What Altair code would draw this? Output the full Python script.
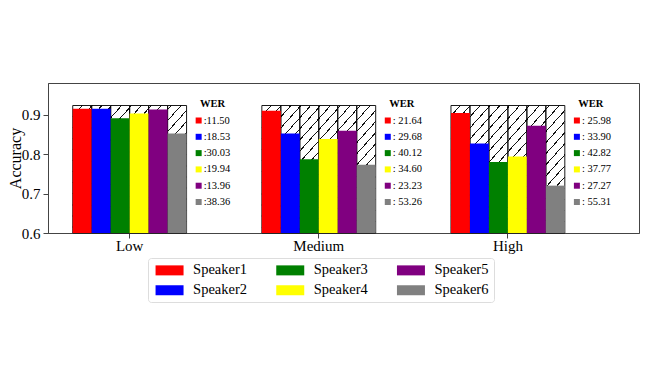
import altair as alt
import pandas as pd

groups = ["Low", "Medium", "High"]
speakers = ["Speaker1", "Speaker2", "Speaker3", "Speaker4", "Speaker5", "Speaker6"]
colors = ["#ff0000", "#0000ff", "#008000", "#ffff00", "#800080", "#808080"]

acc_low = [0.915, 0.915, 0.891, 0.903, 0.913, 0.852]
acc_medium = [0.910, 0.852, 0.787, 0.838, 0.859, 0.773]
acc_high = [0.904, 0.827, 0.780, 0.794, 0.872, 0.720]

wer_low = [":11.50", ":18.53", ":30.03", ":19.94", ":13.96", ":38.36"]
wer_medium = [": 21.64", ": 29.68", ": 40.12", ": 34.60", ": 23.23", ": 53.26"]
wer_high = [": 25.98", ": 33.90", ": 42.82", ": 37.77", ": 27.27", ": 55.31"]

y_base = 0.6
hatch_top = 0.923
y_ticks = [0.6, 0.7, 0.8, 0.9]

FONT = "Liberation Serif"

acc_all = [acc_low, acc_medium, acc_high]
wer_all = [wer_low, wer_medium, wer_high]

rows = []
wrows = []
for g, accs, wers in zip(groups, acc_all, wer_all):
    for i, (s, a, w) in enumerate(zip(speakers, accs, wers)):
        rows.append({"group": g, "speaker": s, "acc": a, "base": y_base, "top": hatch_top})
        wrows.append({"group": g, "speaker": s, "row": i + 1, "label": w})
bars_df = pd.DataFrame(rows)
wer_df = pd.DataFrame(wrows)
hatch_df = pd.DataFrame({"group": groups, "base": [y_base] * 3, "top": [hatch_top] * 3})
title_df = pd.DataFrame({"group": groups, "row": [0] * 3, "text": ["WER"] * 3})

x_scale = alt.Scale(domain=groups, paddingInner=0.398, paddingOuter=0.2615, align=0.25)
y_scale = alt.Scale(domain=[0.6, 0.98], zero=False, nice=False)
color_scale = alt.Scale(domain=speakers, range=colors)
xoff_scale = alt.Scale(domain=speakers, paddingInner=0, paddingOuter=0)

# hatch gradient (stripes)
N = 23
frac = 0.12
stops = []
for k in range(N):
    a = k / N
    b = (k + 1 - frac) / N
    c = (k + 1) / N
    stops += [
        alt.GradientStop(color="white", offset=a),
        alt.GradientStop(color="white", offset=b),
        alt.GradientStop(color="#111111", offset=b),
        alt.GradientStop(color="#111111", offset=c),
    ]
hatch_fill = alt.LinearGradient(gradient="linear", stops=stops, x1=0, y1=0, x2=1, y2=1)

x_enc = alt.X("group:N", scale=x_scale, sort=groups,
              axis=alt.Axis(title=None, labelAngle=0, labelFontSize=15, labelFont=FONT,
                            labelColor="black", tickSize=5, labelPadding=0,
                            domainColor="#444", tickColor="#444"))
y_enc = alt.Y("top:Q", scale=y_scale,
              axis=alt.Axis(title="Accuracy", values=y_ticks, format=".1f", grid=False,
                            labelFontSize=15, labelFont=FONT, labelColor="black",
                            titleFontSize=16, titleFont=FONT, titleFontWeight="normal",
                            titleColor="black", tickSize=5, labelPadding=3, titlePadding=-2,
                            domainColor="#444", tickColor="#444"))

hatch = alt.Chart(hatch_df).mark_bar(fill=hatch_fill, strokeWidth=0).encode(
    x=x_enc, y=y_enc, y2="base:Q")

outlines = alt.Chart(bars_df).mark_bar(fillOpacity=0, stroke="black", strokeWidth=0.9).encode(
    x=alt.X("group:N", scale=x_scale, sort=groups),
    xOffset=alt.XOffset("speaker:N", scale=xoff_scale),
    y=alt.Y("top:Q", scale=y_scale), y2="base:Q")

bars = alt.Chart(bars_df).mark_bar().encode(
    x=alt.X("group:N", scale=x_scale, sort=groups),
    xOffset=alt.XOffset("speaker:N", scale=xoff_scale),
    y=alt.Y("acc:Q", scale=y_scale), y2="base:Q",
    color=alt.Color("speaker:N", scale=color_scale,
                    legend=alt.Legend(title=None, orient="none", legendX=100, legendY=175,
                                      columns=3, columnPadding=25.7, rowPadding=5,
                                      symbolType="M-2.8,-1H2.8V1H-2.8Z", symbolSize=100,
                                      symbolStrokeWidth=0, symbolOffset=9.3, labelOffset=16.3,
                                      labelFontSize=14.5, labelFont=FONT, labelColor="black",
                                      padding=5, strokeColor="#dddddd", cornerRadius=3,
                                      fillColor="white")))

main = alt.layer(hatch, outlines, bars)

row_scale = alt.Scale(domain=[-1.3, 7.9], reverse=True, zero=False, nice=False)

wer_title = alt.Chart(title_df).mark_text(dx=83, fontSize=10.5, fontWeight="bold", font=FONT,
                                          baseline="middle", align="center", color="black").encode(
    x=alt.X("group:N", scale=x_scale, sort=groups),
    y=alt.Y("row:Q", scale=row_scale, axis=None),
    text="text:N")

# small colour keys of the WER lists: a square symbol drawn to the right of each group
wer_sq = alt.Chart(wer_df).mark_point(shape="M22,-1H24V1H22Z", filled=True, size=36,
                                      opacity=1, strokeWidth=0).encode(
    x=alt.X("group:N", scale=x_scale, sort=groups),
    y=alt.Y("row:Q", scale=row_scale, axis=None),
    color=alt.Color("speaker:N", scale=color_scale, legend=None))

wer_txt = alt.Chart(wer_df).mark_text(dx=74, fontSize=10.5, font=FONT, align="left",
                                      baseline="middle", color="black").encode(
    x=alt.X("group:N", scale=x_scale, sort=groups),
    y=alt.Y("row:Q", scale=row_scale, axis=None),
    text="label:N")

wer = alt.layer(wer_title, wer_sq, wer_txt)

chart = alt.layer(main, wer).resolve_scale(y="independent").properties(
    width=591, height=150,
    autosize=alt.AutoSizeParams(type="none"),
    padding={"left": 40, "top": 75, "right": 20, "bottom": 90},
).configure(font=FONT).configure_legend(labelFont=FONT).configure_view(stroke="#444", strokeWidth=1)

chart.save("out.html", embed_options={"renderer": "svg", "actions": False})
